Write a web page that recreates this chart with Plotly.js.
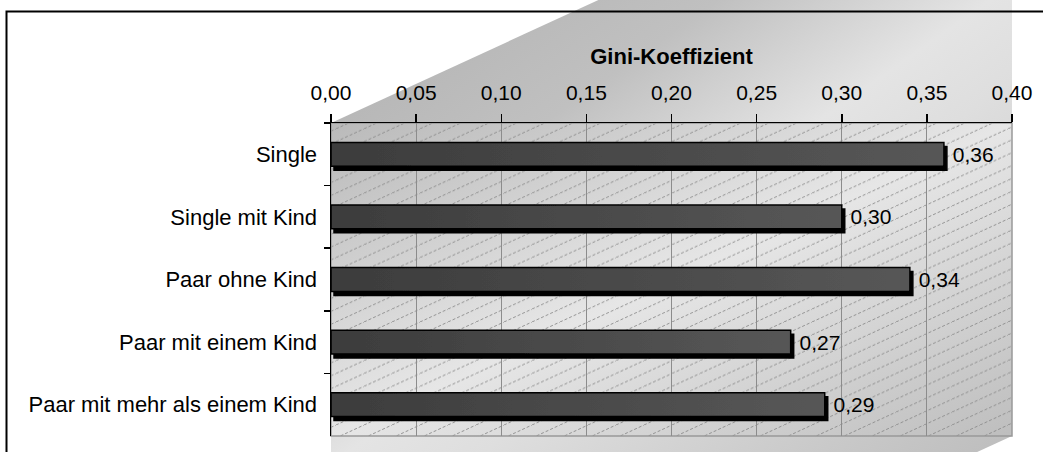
<!DOCTYPE html>
<html>
<head>
<meta charset="utf-8">
<script src="https://cdn.plot.ly/plotly-3.0.1.min.js"></script>
<style>
  html, body { margin: 0; padding: 0; background: #fff; }
  #chart { width: 1043px; height: 452px; }
  /* bar body: dark gradient with a hard black drop shadow */
  .barlayer .point path { fill: url(#barFill) !important; filter: url(#barShadow); }
</style>
</head>
<body>
<svg width="0" height="0" style="position:absolute">
  <defs>
    <linearGradient id="barFill" x1="0" y1="0" x2="1" y2="0">
      <stop offset="0" stop-color="#3c3c3c"/>
      <stop offset="1" stop-color="#575757"/>
    </linearGradient>
    <filter id="barShadow" x="-0.05" y="-0.6" width="1.2" height="2.4">
      <feDropShadow dx="3" dy="4" stdDeviation="0" flood-color="#000" flood-opacity="1"/>
    </filter>
  </defs>
</svg>
<div id="chart"></div>
<script>
// Gini coefficient by household type
const categories = [
  'Single',
  'Single mit Kind',
  'Paar ohne Kind',
  'Paar mit einem Kind',
  'Paar mit mehr als einem Kind'
];
const gini = [0.36, 0.30, 0.34, 0.27, 0.29];
const axisTitle = 'Gini-Koeffizient';
const xRange = [0, 0.40];
const xStep = 0.05;

// canvas and plot-area geometry (pixels)
const W = 1043, H = 452;
const M = { l: 331, r: 31, t: 123, b: 16 };
const px0 = M.l, px1 = W - M.r, py0 = M.t, py1 = H - M.b;
const pw = px1 - px0, ph = py1 - py0;
const slope = 0.46;           // receding edges of the 3-D box
const FONT = 'Liberation Sans, Arial, sans-serif';

// backdrop: chart frame, receding grey wall, shaded and hatched plot face
const up = 300, down = 60;
const backdrop =
`<svg xmlns="http://www.w3.org/2000/svg" width="${W}" height="${H}" viewBox="0 0 ${W} ${H}" preserveAspectRatio="none">
<defs>
  <linearGradient id="wall" x1="0" y1="0" x2="1" y2="1">
    <stop offset="0" stop-color="#b0b0b0"/>
    <stop offset="0.3" stop-color="#c0c0c0"/>
    <stop offset="0.5" stop-color="#e4e4e4"/>
    <stop offset="0.6" stop-color="#dedede"/>
    <stop offset="1" stop-color="#bcbcbc"/>
  </linearGradient>
  <linearGradient id="face" x1="0" y1="0" x2="1" y2="1">
    <stop offset="0" stop-color="#bababa"/>
    <stop offset="0.5" stop-color="#e6e6e6"/>
    <stop offset="1" stop-color="#bebebe"/>
  </linearGradient>
  <pattern id="hatch" patternUnits="userSpaceOnUse" width="28" height="${(28 * slope).toFixed(2)}">
    <path d="M0,${(28 * slope).toFixed(2)} L28,0" stroke="#8a8a8a" stroke-width="0.9" stroke-dasharray="3 2" fill="none"/>
  </pattern>
</defs>
<path d="M${px0},${py0} L${px0 + up},${py0 - up * slope} L${px1},${py0 - up * slope} L${px1},${py1} L${px1 - down},${py1 + down * slope} L${px0},${py1 + down * slope} Z" fill="url(#wall)"/>
<rect x="6.5" y="11.5" width="${W + 20}" height="${H + 20}" fill="none" stroke="#000" stroke-width="2"/>
<rect x="${px0}" y="${py0}" width="${pw}" height="${ph}" fill="url(#face)"/>
<rect x="${px0}" y="${py0}" width="${pw}" height="${ph}" fill="url(#hatch)"/>
<rect x="${px0}" y="${py0}" width="${pw}" height="${ph}" fill="none" stroke="#999" stroke-width="1.5"/>
</svg>`;

const trace = {
  type: 'bar',
  orientation: 'h',
  y: categories,
  x: gini,
  marker: { color: '#484848', line: { color: '#000', width: 1.5 } },
  texttemplate: '\u00a0%{x:.2f}',
  textposition: 'outside',
  textfont: { family: FONT, size: 21, color: '#000' },
  constraintext: 'none',
  cliponaxis: false,
  hoverinfo: 'skip'
};

const layout = {
  width: W,
  height: H,
  margin: { l: M.l, r: M.r, t: M.t, b: M.b, pad: 0 },
  paper_bgcolor: '#fff',
  plot_bgcolor: 'rgba(0,0,0,0)',
  separators: ',.',
  showlegend: false,
  bargap: 0.62,
  font: { family: FONT, size: 21, color: '#000' },
  xaxis: {
    side: 'top',
    range: xRange,
    dtick: xStep,
    tick0: 0,
    tickformat: '.2f',
    ticks: 'outside',
    ticklen: 8,
    tickwidth: 1.5,
    tickcolor: '#000',
    ticklabelstandoff: 5,
    showline: true,
    linecolor: '#000',
    linewidth: 1.5,
    showgrid: true,
    gridcolor: '#8c8c8c',
    gridwidth: 1,
    zeroline: false,
    fixedrange: true,
    tickfont: { family: FONT, size: 21, color: '#000' },
    title: { text: axisTitle, font: { family: FONT, size: 22, color: '#000', weight: 'bold' }, standoff: 10 }
  },
  yaxis: {
    type: 'category',
    categoryorder: 'array',
    categoryarray: categories,
    autorange: 'reversed',
    ticks: 'outside',
    tickson: 'boundaries',
    ticklen: 6,
    tickwidth: 1.5,
    tickcolor: '#000',
    ticklabelstandoff: 8,
    showline: true,
    linecolor: '#000',
    linewidth: 1.5,
    showgrid: false,
    zeroline: false,
    fixedrange: true,
    tickfont: { family: FONT, size: 22, color: '#000' }
  },
  images: [{
    source: 'data:image/svg+xml;charset=utf-8,' + encodeURIComponent(backdrop),
    xref: 'paper', yref: 'paper',
    x: -M.l / pw, y: 1 + M.t / ph,
    sizex: W / pw, sizey: H / ph,
    xanchor: 'left', yanchor: 'top',
    sizing: 'stretch',
    layer: 'below'
  }]
};

Plotly.newPlot('chart', [trace], layout, { displayModeBar: false, staticPlot: true });
</script>
</body>
</html>
